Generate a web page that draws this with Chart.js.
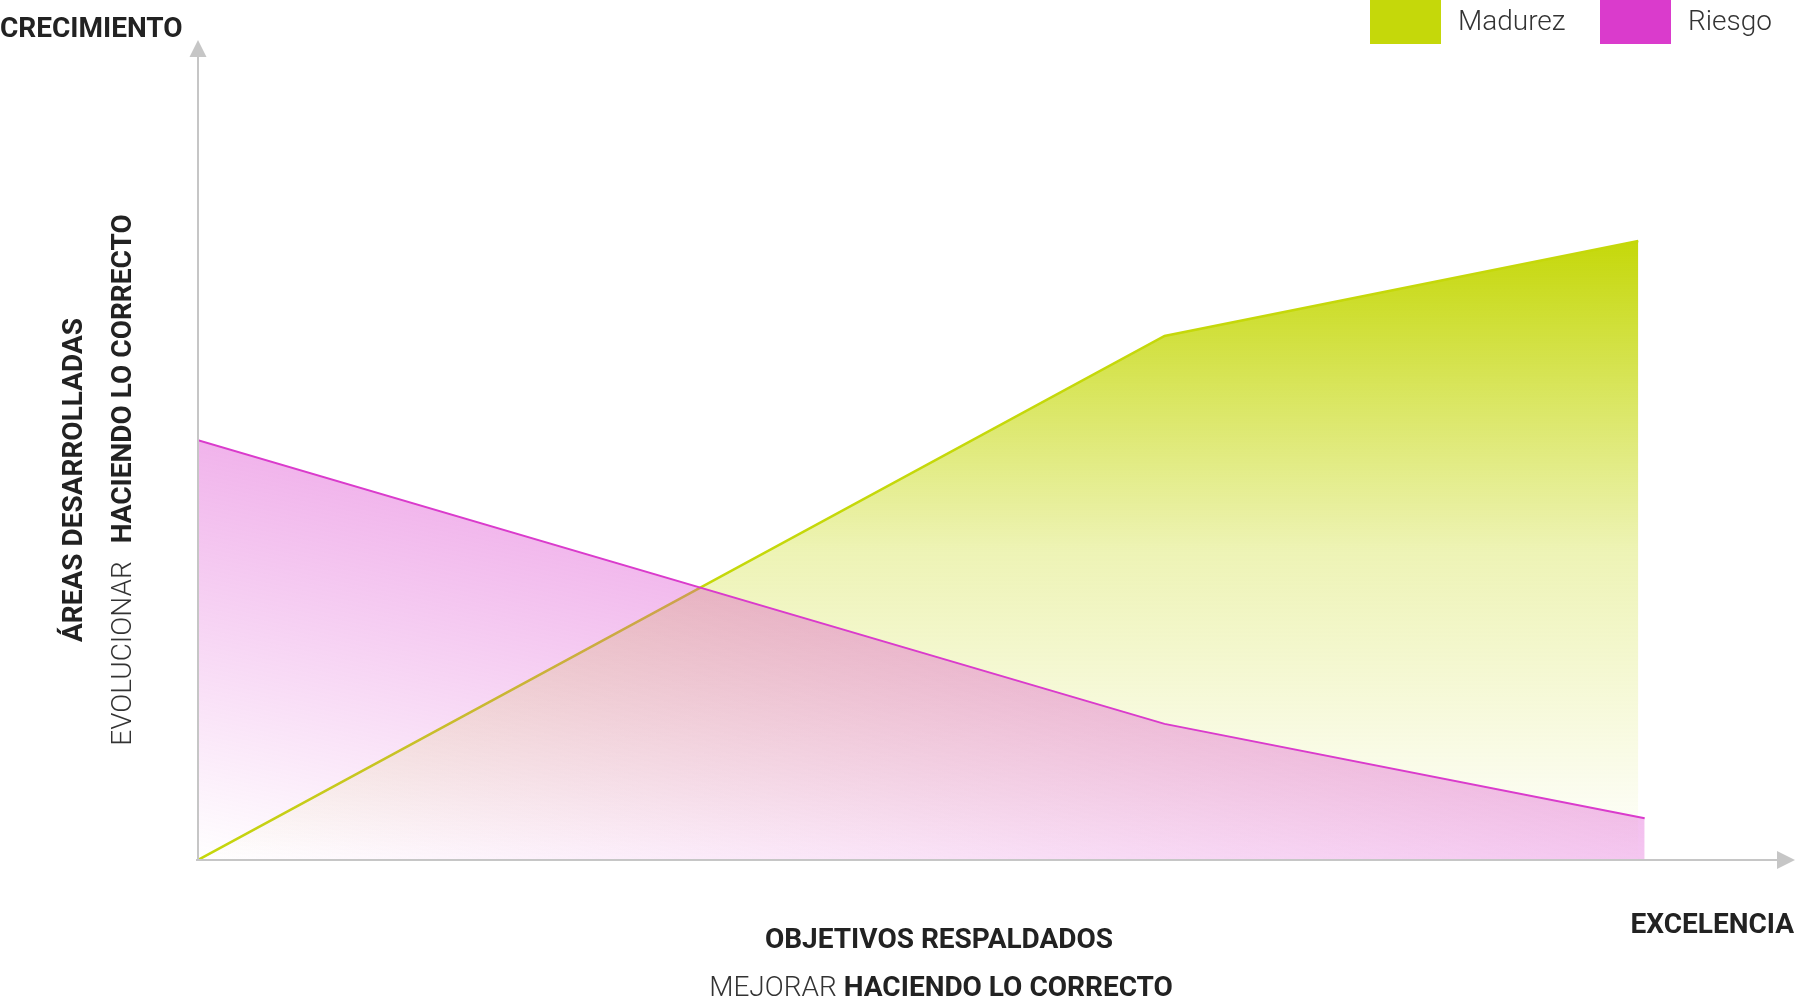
<!DOCTYPE html>
<html lang="es">
<head>
<meta charset="utf-8">
<title>Madurez y Riesgo</title>
<script src="https://cdn.jsdelivr.net/npm/chart.js@4.4.0/dist/chart.umd.min.js"></script>
<style>
  html, body { margin: 0; padding: 0; background: #fff; }
  #wrap { position: relative; width: 1796px; height: 998px; }
</style>
</head>
<body>
<div id="wrap"><canvas id="chart"></canvas></div>
<script>
const seriesNames = ["Madurez", "Riesgo"];
const madurezX = [0, 60.6, 90.3];
const madurezY = [0, 63.9, 75.5];
const riesgoX = [0, 60.6, 90.7];
const riesgoY = [51.2, 16.6, 5.1];
const seriesColors = ["#c5d80a", "#da3bcc"];

const axisColor = "#c6c6c6";
const darkText = "#222222";
const lightText = "#333333";

const toPoints = (xs, ys) => xs.map((x, i) => ({ x, y: ys[i] }));

function madurezFill(context) {
  const { chart } = context;
  const area = chart.chartArea;
  if (!area) return null;
  const top = chart.scales.y.getPixelForValue(Math.max(...madurezY));
  const g = chart.ctx.createLinearGradient(0, top, 0, area.bottom);
  g.addColorStop(0, "rgba(197,216,10,1)");
  g.addColorStop(0.5, "rgba(197,216,10,0.3)");
  g.addColorStop(1, "rgba(197,216,10,0)");
  return g;
}

function riesgoFill(context) {
  const { chart } = context;
  const area = chart.chartArea;
  if (!area) return null;
  // tilted gradient: white at the bottom left, stays pink towards the right
  const g = chart.ctx.createLinearGradient(area.left, area.bottom, area.left + 97, area.bottom - 448);
  g.addColorStop(0, "rgba(218,59,204,0)");
  g.addColorStop(1, "rgba(218,59,204,0.43)");
  return g;
}

function drawMixed(ctx, parts, cx, cy) {
  let total = 0;
  parts.forEach((p) => {
    ctx.font = p.font;
    total += ctx.measureText(p.text).width + (p.gap || 0);
  });
  let x = cx - total / 2;
  parts.forEach((p) => {
    ctx.font = p.font;
    ctx.fillStyle = p.color;
    ctx.fillText(p.text, x, cy);
    x += ctx.measureText(p.text).width + (p.gap || 0);
  });
}

const decorations = {
  id: "decorations",
  afterDraw(chart) {
    const { ctx } = chart;
    const x0 = chart.scales.x.getPixelForValue(0);
    const y0 = chart.scales.y.getPixelForValue(0);
    const yTop = chart.scales.y.getPixelForValue(100);
    const xEnd = chart.scales.x.getPixelForValue(100);

    ctx.save();
    // axes
    ctx.strokeStyle = axisColor;
    ctx.fillStyle = axisColor;
    ctx.lineWidth = 2;
    ctx.beginPath();
    ctx.moveTo(x0 - 2, y0);
    ctx.lineTo(xEnd - 14, y0);
    ctx.moveTo(x0, y0 + 1);
    ctx.lineTo(x0, yTop + 14);
    ctx.stroke();
    ctx.beginPath();
    ctx.moveTo(x0, yTop);
    ctx.lineTo(x0 + 8.5, yTop + 17);
    ctx.lineTo(x0 - 8.5, yTop + 17);
    ctx.closePath();
    ctx.fill();
    ctx.beginPath();
    ctx.moveTo(xEnd + 2, y0);
    ctx.lineTo(xEnd - 16, y0 - 9);
    ctx.lineTo(xEnd - 16, y0 + 9);
    ctx.closePath();
    ctx.fill();

    // axis end labels
    ctx.textBaseline = "middle";
    ctx.fillStyle = darkText;
    ctx.font = "700 28px Roboto";
    ctx.textAlign = "left";
    ctx.fillText("CRECIMIENTO", 0, 30);
    ctx.textAlign = "right";
    ctx.fillText("EXCELENCIA", 1794, 926);

    // bottom titles
    ctx.textAlign = "left";
    drawMixed(ctx, [{ text: "OBJETIVOS RESPALDADOS", font: "700 28px Roboto", color: darkText }], 939, 941);
    drawMixed(ctx, [
      { text: "MEJORAR", font: "300 28px Roboto", color: lightText, gap: 7 },
      { text: "HACIENDO LO CORRECTO", font: "700 28px Roboto", color: darkText },
    ], 941, 989);

    // left titles, rotated
    ctx.save();
    ctx.translate(75, 480);
    ctx.rotate(-Math.PI / 2);
    drawMixed(ctx, [{ text: "ÁREAS DESARROLLADAS", font: "700 28px Roboto", color: darkText }], 0, 0);
    ctx.restore();
    ctx.save();
    ctx.translate(124, 480);
    ctx.rotate(-Math.PI / 2);
    drawMixed(ctx, [
      { text: "EVOLUCIONAR", font: "300 28px Roboto", color: lightText, gap: 18 },
      { text: "HACIENDO LO CORRECTO", font: "700 28px Roboto", color: darkText },
    ], 0, 0);
    ctx.restore();

    // legend
    const legendX = [1370, 1600];
    ctx.textBaseline = "alphabetic";
    ctx.font = "300 28px Roboto";
    seriesNames.forEach((name, i) => {
      ctx.fillStyle = seriesColors[i];
      ctx.fillRect(legendX[i], 0, 71, 44);
      ctx.fillStyle = lightText;
      ctx.fillText(name, legendX[i] + 88, 30);
    });
    ctx.restore();
  },
};

new Chart(document.getElementById("chart"), {
  type: "line",
  data: {
    datasets: [
      {
        label: seriesNames[0],
        data: toPoints(madurezX, madurezY),
        borderColor: seriesColors[0],
        borderWidth: 2.5,
        backgroundColor: madurezFill,
        fill: "origin",
        order: 1,
      },
      {
        label: seriesNames[1],
        data: toPoints(riesgoX, riesgoY),
        borderColor: seriesColors[1],
        borderWidth: 2,
        backgroundColor: riesgoFill,
        fill: "origin",
        order: 0,
      },
    ],
  },
  options: {
    responsive: true,
    maintainAspectRatio: false,
    animation: false,
    layout: { padding: { left: 198, right: 3, top: 40, bottom: 138 } },
    scales: {
      x: { type: "linear", min: 0, max: 100, display: false },
      y: { min: 0, max: 100, display: false },
    },
    elements: {
      point: { radius: 0 },
      line: { tension: 0 },
    },
    plugins: {
      legend: { display: false },
      tooltip: { enabled: false },
    },
  },
  plugins: [decorations],
});
</script>
</body>
</html>
